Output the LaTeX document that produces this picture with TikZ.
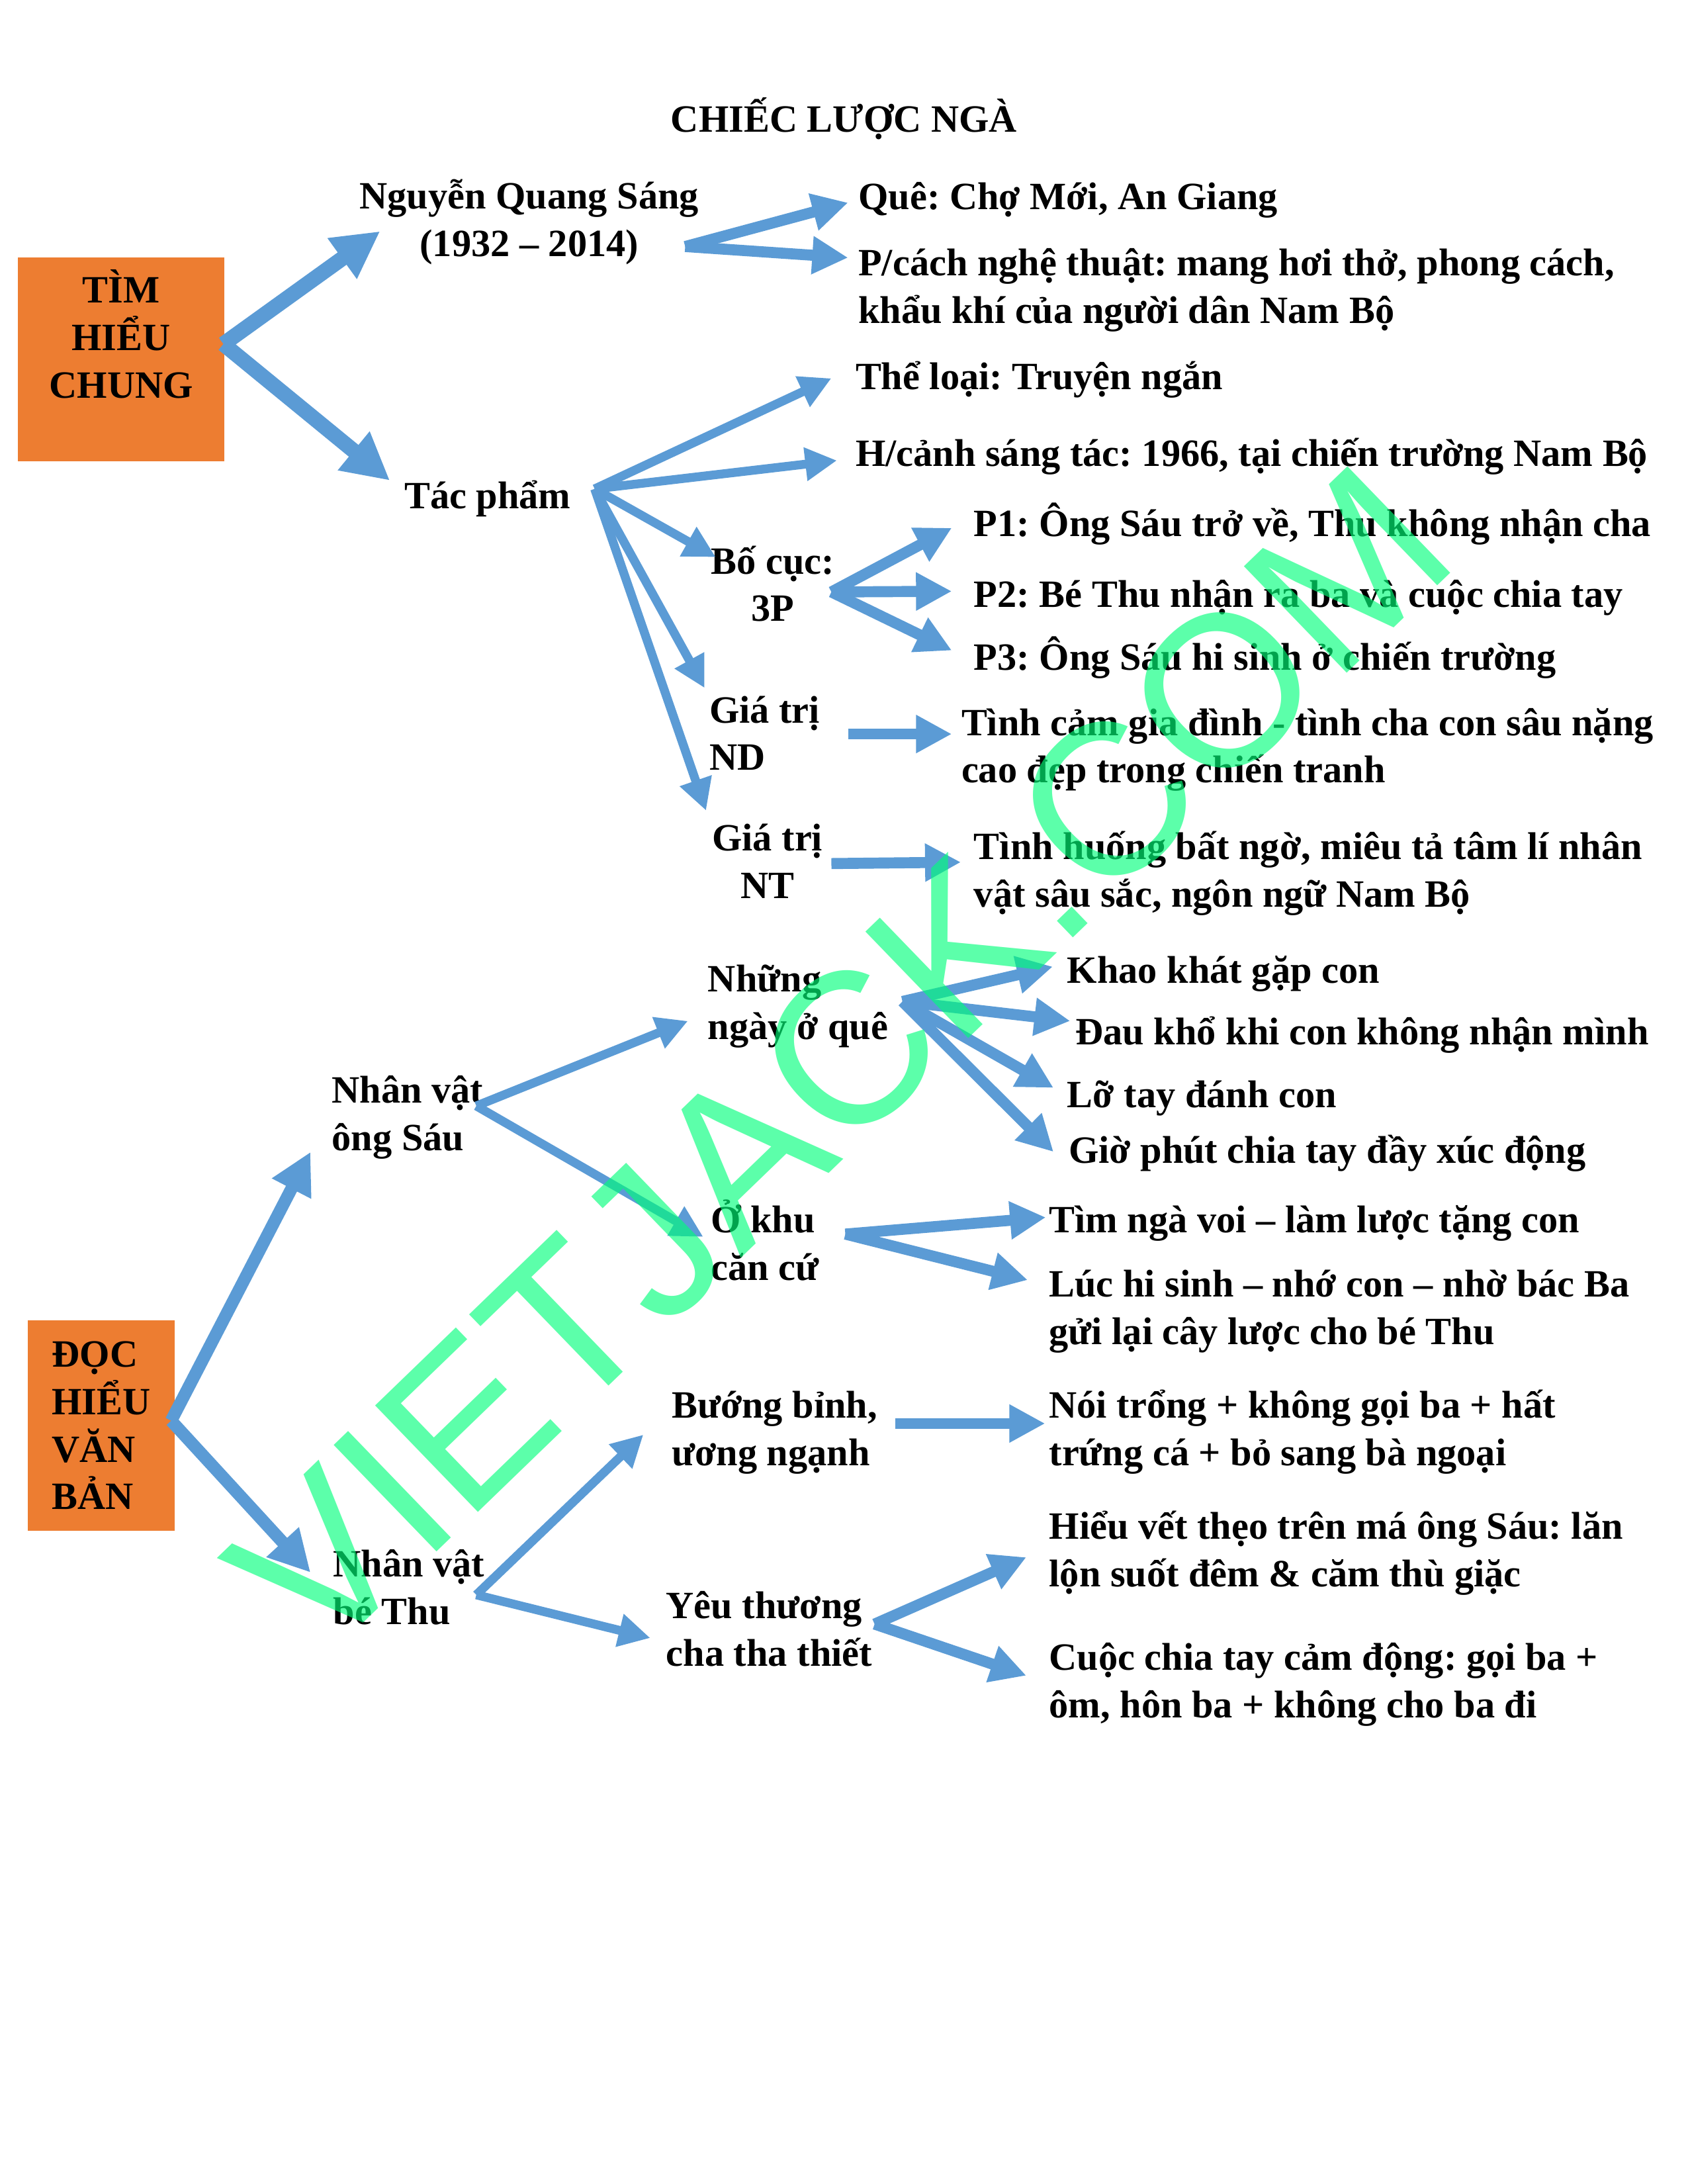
\documentclass[tikz,border=0pt]{standalone}
\usepackage{fontspec}
\setmainfont{Liberation Serif}
\newfontfamily\wmfont{Liberation Sans}
\usetikzlibrary{arrows.meta,calc}
\definecolor{arrblue}{HTML}{5B9BD5}
\definecolor{boxorange}{HTML}{ED7D31}
\definecolor{wmgreen}{RGB}{0,255,122}
\frenchspacing
% stacked lines, baseline on the first line
\newcommand\lft[1]{\vtop{\halign{##\hfil\cr#1\crcr}}}
\newcommand\ctr[1]{\vtop{\halign{\hfil##\hfil\cr#1\crcr}}}

\begin{document}
\begin{tikzpicture}[x=0.50495pt, y=-0.50495pt,
  every node/.style={font=\bfseries\fontsize{14}{17.2}\selectfont, inner sep=0pt},
  txt/.style={anchor=base west},
  ctxt/.style={anchor=base},
  orbox/.style={fill=boxorange},
  arr/.style={arrblue, line width=4pt, -{Triangle[length=13pt, width=13pt]}},
  thinarr/.style={arrblue, line width=3.2pt, -{Triangle[length=11.5pt, width=11.5pt]}},
  bigarr/.style={arrblue, line width=5.5pt, -{Triangle[length=17pt, width=17pt]}},
  midarr/.style={arrblue, line width=4.5pt, -{Triangle[length=15pt, width=15pt]}}]
  \useasboundingbox (0,0) rectangle (1212,1568);

  % title
  \node[ctxt] (title) at (606,95) {CHIẾC LƯỢC NGÀ};

  % part 1: tim hieu chung
  \node[orbox, minimum width=148*0.50495pt, minimum height=146*0.50495pt] (tim) at (87,258) {};
  \node[ctxt] (timtxt) at (87,217.6) {\ctr{TÌM\cr HIỂU\cr CHUNG}};
  \node[ctxt] (nqs) at (380,150) {\ctr{Nguyễn Quang Sáng\cr (1932 – 2014)}};
  \node[txt] (que) at (616,150.5) {Quê: Chợ Mới, An Giang};
  \node[txt] (pcach) at (616,198) {\lft{P/cách nghệ thuật: mang hơi thở, phong cách,\cr khẩu khí của người dân Nam Bộ}};
  \node[txt] (tp) at (290,365) {Tác phẩm};
  \node[txt] (theloai) at (614,279.6) {Thể loại: Truyện ngắn};
  \node[txt] (hcanh) at (614,334.6) {H/cảnh sáng tác: 1966, tại chiến trường Nam Bộ};
  \node[ctxt] (bocuc) at (555,412) {\ctr{Bố cục:\cr 3P}};
  \node[txt] (p1) at (699,385) {P1: Ông Sáu trở về, Thu không nhận cha};
  \node[txt] (p2) at (699,436) {P2: Bé Thu nhận ra ba và cuộc chia tay};
  \node[txt] (p3) at (699,481) {P3: Ông Sáu hi sinh ở chiến trường};
  \node[txt] (gtnd) at (509,519) {\lft{Giá trị\cr ND}};
  \node[txt] (tinhcam) at (690,528) {\lft{Tình cảm gia đình - tình cha con sâu nặng\cr cao đẹp trong chiến tranh}};
  \node[ctxt] (gtnt) at (551,611) {\ctr{Giá trị\cr NT}};
  \node[txt] (tinhhuong) at (699,617) {\lft{Tình huống bất ngờ, miêu tả tâm lí nhân\cr vật sâu sắc, ngôn ngữ Nam Bộ}};

  % part 2: doc hieu van ban
  \node[orbox, minimum width=105.5*0.50495pt, minimum height=151*0.50495pt] (doc) at (72.75,1023.5) {\lft{ĐỌC\cr HIỂU\cr VĂN\cr BẢN}};
  \node[txt] (nvos) at (238,792) {\lft{Nhân vật\cr ông Sáu}};
  \node[txt] (nhung) at (508,712) {\lft{Những\cr ngày ở quê}};
  \node[txt] (khao) at (766,706) {Khao khát gặp con};
  \node[txt] (daukho) at (772,750) {Đau khổ khi con không nhận mình};
  \node[txt] (lotay) at (766,795) {Lỡ tay đánh con};
  \node[txt] (gio) at (767,835) {Giờ phút chia tay đầy xúc động};
  \node[txt] (okhu) at (510,885) {\lft{Ở khu\cr căn cứ}};
  \node[txt] (timnga) at (753,885) {Tìm ngà voi – làm lược tặng con};
  \node[txt] (luchi) at (753,931) {\lft{Lúc hi sinh – nhớ con – nhờ bác Ba\cr gửi lại cây lược cho bé Thu}};
  \node[txt] (nvbt) at (239,1132) {\lft{Nhân vật\cr bé Thu}};
  \node[txt] (buong) at (482,1018) {\lft{Bướng bỉnh,\cr ương ngạnh}};
  \node[txt] (noitrong) at (753,1018) {\lft{Nói trổng + không gọi ba + hất\cr trứng cá + bỏ sang bà ngoại}};
  \node[txt] (yeu) at (478,1162) {\lft{Yêu thương\cr cha tha thiết}};
  \node[txt] (hieu) at (753,1105) {\lft{Hiểu vết thẹo trên má ông Sáu: lăn\cr lộn suốt đêm \& căm thù giặc}};
  \node[txt] (cuoc) at (753,1199) {\lft{Cuộc chia tay cảm động: gọi ba +\cr ôm, hôn ba + không cho ba đi}};

  % fan points
  \coordinate (tim-out) at ($(tim.east)+(-1,-11)$);
  \coordinate (nqs-out) at ($(nqs.base)+(112,27)$);
  \coordinate (tp-out) at ($(tp.base west)+(137,-14)$);
  \coordinate (bocuc-out) at ($(bocuc.base)+(42,13)$);
  \coordinate (gtnd-out) at ($(gtnd.base west)+(100,8)$);
  \coordinate (gtnt-out) at ($(gtnt.base)+(46,9)$);
  \coordinate (doc-out) at ($(doc.east)+(-3,-3.5)$);
  \coordinate (nvos-out) at ($(nvos.base west)+(104,2)$);
  \coordinate (nhung-out) at ($(nhung.base west)+(140,7)$);
  \coordinate (okhu-out) at ($(okhu.base west)+(97,1)$);
  \coordinate (nvbt-out) at ($(nvbt.base west)+(103,13)$);
  \coordinate (buong-out) at ($(buong.base west)+(161,4)$);
  \coordinate (yeu-out) at ($(yeu.base west)+(150,4)$);

  % arrows, part 1
  \draw[bigarr] (tim-out) -- ($(nqs.base)+(-107,16)$);
  \draw[bigarr] (tim-out) -- ($(tp.base west)+(-10,-20)$);
  \draw[arr] (nqs-out) -- ($(que.base west)+(-7,-5)$);
  \draw[arr] (nqs-out) -- ($(pcach.base west)+(-7,-13)$);
  \draw[thinarr] (tp-out) -- ($(theloai.base west)+(-17,-8)$);
  \draw[thinarr] (tp-out) -- ($(hcanh.base west)+(-13,-4)$);
  \draw[thinarr] (tp-out) -- ($(bocuc.base)+(-41,-12)$);
  \draw[thinarr] (tp-out) -- ($(gtnd.base west)+(-3,-25)$);
  \draw[thinarr] (tp-out) -- ($(gtnt.base)+(-44,-29)$);
  \draw[arr] (bocuc-out) -- ($(p1.base west)+(-15.5,-6)$);
  \draw[arr] (bocuc-out) -- ($(p2.base west)+(-15.5,-11.5)$);
  \draw[arr] (bocuc-out) -- ($(p3.base west)+(-15.5,-14)$);
  \draw[arr] (gtnd-out) -- ($(tinhcam.base west)+(-6.5,-1)$);
  \draw[arr] (gtnt-out) -- ($(tinhhuong.base west)+(-9,2)$);

  % arrows, part 2
  \draw[midarr] (doc-out) -- ($(nvos.base west)+(-15,35)$);
  \draw[midarr] (doc-out) -- ($(nvbt.base west)+(-16,-3)$);
  \draw[thinarr] (nvos-out) -- ($(nhung.base west)+(-14,21)$);
  \draw[thinarr] (nvos-out) -- ($(okhu.base west)+(-5,3)$);
  \draw[arr] (nhung-out) -- ($(khao.base west)+(-10,-12)$);
  \draw[arr] (nhung-out) -- ($(daukho.base west)+(-3.5,-17)$);
  \draw[arr] (nhung-out) -- ($(lotay.base west)+(-9.5,-14)$);
  \draw[arr] (nhung-out) -- ($(gio.base west)+(-10.5,-8)$);
  \draw[arr] (okhu-out) -- ($(timnga.base west)+(-2,-11)$);
  \draw[arr] (okhu-out) -- ($(luchi.base west)+(-15,-12)$);
  \draw[thinarr] (nvbt-out) -- ($(buong.base west)+(-20,12)$);
  \draw[thinarr] (nvbt-out) -- ($(yeu.base west)+(-11,14)$);
  \draw[arr] (buong-out) -- ($(noitrong.base west)+(-2.5,4)$);
  \draw[arr] (yeu-out) -- ($(hieu.base west)+(-16,13)$);
  \draw[arr] (yeu-out) -- ($(cuoc.base west)+(-16,4)$);

  % watermark
  \node[font=\wmfont\fontsize{78}{78}\selectfont, text=wmgreen, text opacity=0.64, rotate=44] (wm) at (603,761) {VIETJACK.COM};
\end{tikzpicture}
\end{document}
